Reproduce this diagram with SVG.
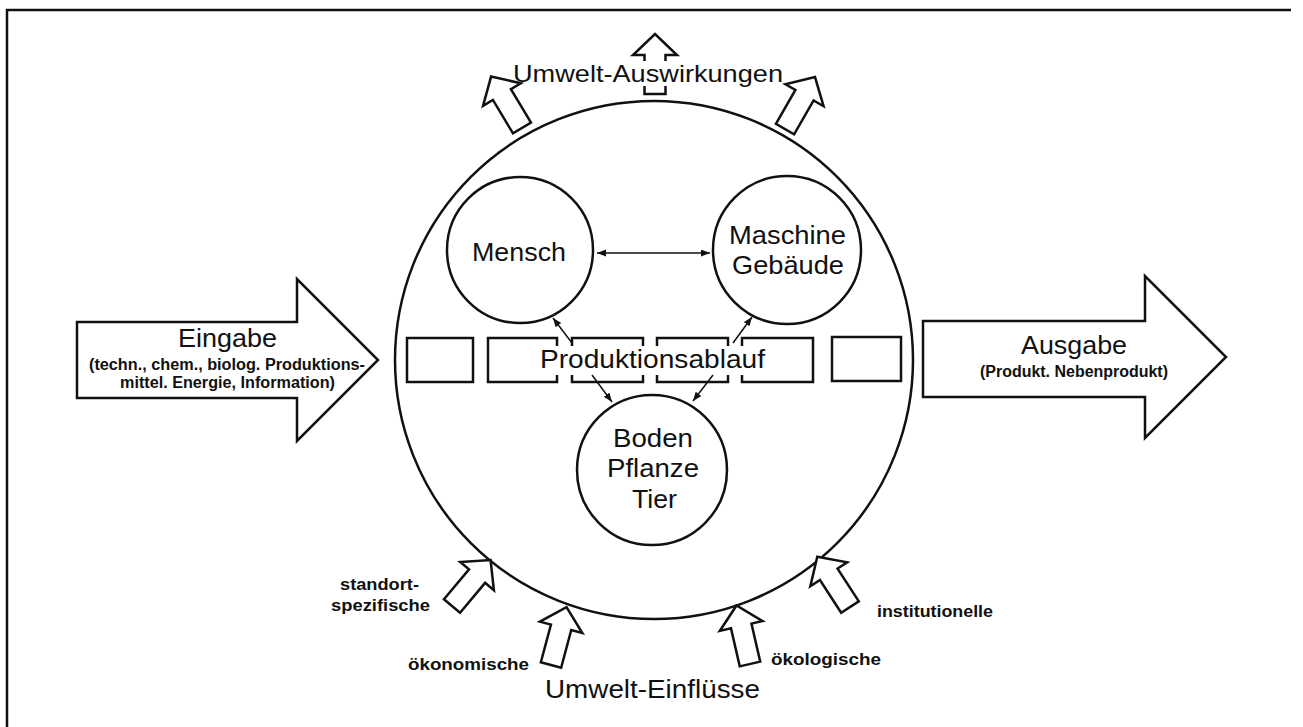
<svg xmlns="http://www.w3.org/2000/svg" width="1303" height="727" viewBox="0 0 1303 727">
<style>
.ln{fill:none;stroke:#111;stroke-width:2.5}
.wf{fill:#fff;stroke:#111;stroke-width:2.5;stroke-linejoin:miter}
.t{font-family:"Liberation Sans",Arial,sans-serif;fill:#111}
.big{font-size:25px}
.sm{font-size:16px;font-weight:bold}
.lb{font-size:17px;font-weight:bold}
.cn{fill:none;stroke:#111;stroke-width:1.5}
</style>
<defs>
<path id="blk" d="M-10.5,0 V-39 H-22 L0,-60 L22,-39 H10.5 V0 Z"/>
<marker id="ah" markerWidth="10" markerHeight="8" refX="9" refY="3.5" orient="auto-start-reverse" markerUnits="userSpaceOnUse">
<path d="M0,0 L9,3.5 L0,7 Z" fill="#111"/>
</marker>
</defs>
<rect width="1303" height="727" fill="#fff"/>
<path class="ln" d="M7,727 V10 H1291" stroke-width="3"/>

<g id="node-eingabe">
<polygon class="wf" points="77,322 297,322 297,279 378,360 297,441 297,398 77,398"/>
<text class="t big" x="178" y="347" textLength="99" lengthAdjust="spacingAndGlyphs">Eingabe</text>
<text class="t sm" x="89" y="370" textLength="276" lengthAdjust="spacingAndGlyphs">(techn., chem., biolog. Produktions-</text>
<text class="t sm" x="120" y="388" textLength="215" lengthAdjust="spacingAndGlyphs">mittel. Energie, Information)</text>
</g>

<g id="node-ausgabe">
<polygon class="wf" points="923,321 1145,321 1145,276 1226,357 1145,438 1145,397 923,397"/>
<text class="t big" x="1021" y="354" textLength="106" lengthAdjust="spacingAndGlyphs">Ausgabe</text>
<text class="t sm" x="980" y="377" textLength="188" lengthAdjust="spacingAndGlyphs">(Produkt. Nebenprodukt)</text>
</g>

<g id="node-system">
<circle class="ln" cx="654" cy="360" r="259"/>
</g>

<g id="node-auswirkungen">
<use href="#blk" class="wf" transform="translate(522,128) rotate(-31)"/>
<use href="#blk" class="wf" transform="translate(655,94)"/>
<use href="#blk" class="wf" transform="translate(785,129) rotate(30)"/>
<rect x="641" y="61" width="28" height="25" fill="#fff"/>
<text class="t" font-size="24" x="513" y="82" textLength="270" lengthAdjust="spacingAndGlyphs">Umwelt-Auswirkungen</text>
</g>

<g id="node-einfluesse">
<use href="#blk" class="wf" transform="translate(452,606) rotate(40)"/>
<use href="#blk" class="wf" transform="translate(551,665) rotate(15)"/>
<use href="#blk" class="wf" transform="translate(750,664) rotate(-13)"/>
<use href="#blk" class="wf" transform="translate(850,607) rotate(-33)"/>
<text class="t lb" x="340" y="590" textLength="79" lengthAdjust="spacingAndGlyphs">standort-</text>
<text class="t lb" x="331" y="611" textLength="99" lengthAdjust="spacingAndGlyphs">spezifische</text>
<text class="t lb" x="408" y="670" textLength="121" lengthAdjust="spacingAndGlyphs">ökonomische</text>
<text class="t lb" x="771" y="665" textLength="110" lengthAdjust="spacingAndGlyphs">ökologische</text>
<text class="t lb" x="877" y="617" textLength="116" lengthAdjust="spacingAndGlyphs">institutionelle</text>
<text class="t big" x="545" y="698" textLength="215" lengthAdjust="spacingAndGlyphs">Umwelt-Einflüsse</text>
</g>

<g id="node-mensch">
<circle class="ln" cx="520" cy="250" r="73"/>
<text class="t big" x="472" y="261" textLength="94" lengthAdjust="spacingAndGlyphs">Mensch</text>
</g>

<g id="node-maschine">
<circle class="ln" cx="787" cy="250" r="74"/>
<text class="t big" x="729" y="244" textLength="117" lengthAdjust="spacingAndGlyphs">Maschine</text>
<text class="t big" x="732" y="274" textLength="112" lengthAdjust="spacingAndGlyphs">Gebäude</text>
</g>

<g id="node-boden">
<circle class="ln" cx="652" cy="470" r="75"/>
<text class="t big" x="613" y="447" textLength="80" lengthAdjust="spacingAndGlyphs">Boden</text>
<text class="t big" x="607" y="477" textLength="92" lengthAdjust="spacingAndGlyphs">Pflanze</text>
<text class="t big" x="632" y="508" textLength="45" lengthAdjust="spacingAndGlyphs">Tier</text>
</g>

<g id="node-process">
<rect class="ln" x="407" y="338" width="66" height="44"/>
<rect class="ln" x="488" y="338" width="69" height="44"/>
<rect class="ln" x="572" y="338" width="71" height="44"/>
<rect class="ln" x="657" y="338" width="71" height="44"/>
<rect class="ln" x="742" y="338" width="71" height="44"/>
<rect class="ln" x="832" y="337" width="69" height="44"/>
<rect x="537" y="346" width="231" height="29" fill="#fff"/>
<text class="t big" x="540" y="368" textLength="225" lengthAdjust="spacingAndGlyphs">Produktionsablauf</text>
</g>

<g id="connectors">
<line class="cn" x1="597" y1="253" x2="710" y2="253" marker-start="url(#ah)" marker-end="url(#ah)"/>
<line class="cn" x1="572" y1="343" x2="553" y2="318" marker-end="url(#ah)"/>
<line class="cn" x1="733" y1="343" x2="752" y2="317" marker-end="url(#ah)"/>
<line class="cn" x1="592" y1="375" x2="612" y2="402" marker-end="url(#ah)"/>
<line class="cn" x1="713" y1="375" x2="693" y2="401" marker-end="url(#ah)"/>
</g>
</svg>
